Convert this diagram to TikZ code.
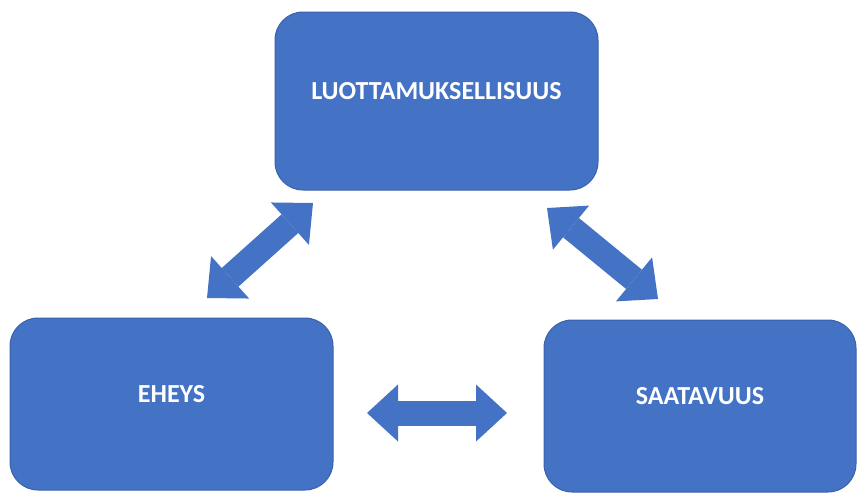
\documentclass[tikz,border=0pt]{standalone}
\usepackage{fontspec}
\setmainfont{Carlito}
\usetikzlibrary{arrows.meta}
\definecolor{boxblue}{HTML}{4472C4}
\definecolor{boxedge}{HTML}{3A62AC}

\begin{document}
\begin{tikzpicture}[x=1pt,y=-1pt,
      box/.style={draw=boxedge,fill=boxblue,line width=1pt,rounded corners=28pt,
        text=white,font=\bfseries\fontsize{26}{30}\selectfont,
        text height=17pt,text depth=20pt},
      twoway/.style={draw=boxblue,line width=25pt,
        {Triangle[length=31pt,width=57pt,line width=0pt]}-{Triangle[length=31pt,width=57pt,line width=0pt]}}]
    \useasboundingbox (0,0) rectangle (857,493);
    % the three boxes
    \node[box,minimum width=323pt,minimum height=178pt] (luotto) at (436.5,101) {LUOTTAMUKSELLISUUS};
    \node[box,minimum width=323pt,minimum height=172pt] (eheys) at (171.5,404) {EHEYS};
    \node[box,minimum width=312pt,minimum height=172pt] (saatavuus) at (700,406) {SAATAVUUS};
    % arrow ends
    \coordinate (le1) at (207,298);
    \coordinate (le2) at (313,203);
    \coordinate (ri1) at (547,208);
    \coordinate (ri2) at (658,299);
    \coordinate (bo1) at (367,413);
    \coordinate (bo2) at (507,413);
    \draw[twoway] (le1) -- (le2);
    \draw[twoway] (ri1) -- (ri2);
    \draw[twoway] (bo1) -- (bo2);
  \end{tikzpicture}
\end{document}
